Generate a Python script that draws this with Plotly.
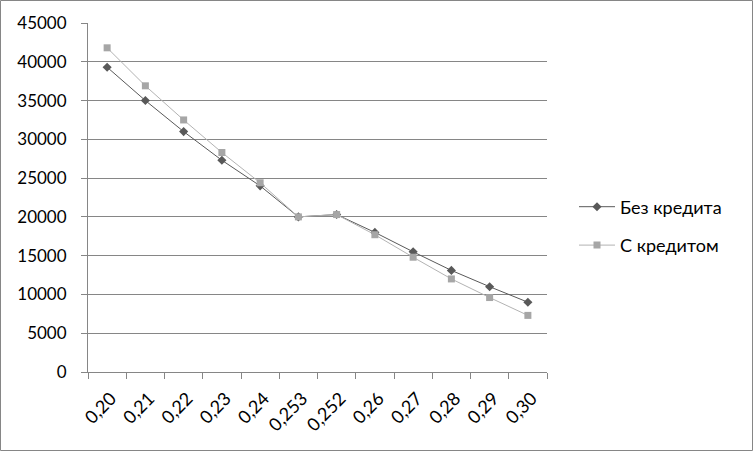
import plotly.graph_objects as go

categories = ["0,20", "0,21", "0,22", "0,23", "0,24", "0,253", "0,252", "0,26", "0,27", "0,28", "0,29", "0,30"]
bez_kredita = [39300, 35000, 31000, 27300, 24000, 20000, 20300, 18000, 15500, 13100, 11000, 9000]
s_kreditom = [41800, 36900, 32500, 28300, 24400, 20000, 20300, 17700, 14800, 12000, 9600, 7300]
y_ticks = list(range(0, 45001, 5000))

W, H = 753, 451
ml, mr, mt, mb = 88, 206, 23, 79
pw, ph = W - ml - mr, H - mt - mb

fig = go.Figure()
fig.add_trace(go.Scatter(
    x=categories, y=bez_kredita, name="Без кредита", mode="lines+markers",
    line=dict(color="#595959", width=1),
    marker=dict(symbol="diamond", size=7, color="#595959"),
    legendgroup="a"))
fig.add_trace(go.Scatter(
    x=categories, y=s_kreditom, name="С кредитом", mode="lines+markers",
    line=dict(color="#b3b3b3", width=1),
    marker=dict(symbol="square", size=7, color="#a6a6a6"),
    legendgroup="b"))

font = "Lato, 'Open Sans', sans-serif"
fig.update_layout(
    width=W, height=H,
    margin=dict(l=ml, r=mr, t=mt, b=mb, pad=0, autoexpand=False),
    paper_bgcolor="white", plot_bgcolor="white",
    font=dict(family=font, size=17, color="black"),
    showlegend=True,
    legend=dict(x=1 + (574 - 547) / pw, y=(372 - 226) / ph, xanchor="left", yanchor="middle",
                tracegroupgap=12, font=dict(size=18), bgcolor="rgba(0,0,0,0)",
                itemwidth=36),
    xaxis=dict(type="category", categoryorder="array", categoryarray=categories,
               showline=True, linecolor="#868686", linewidth=1,
               ticks="outside", tickson="boundaries", ticklen=6, tickcolor="#868686",
               tickangle=-45, showgrid=False, zeroline=False, automargin=False,
               ticklabelstandoff=8, ticklabelshift=4,
               range=[-0.5, len(categories) - 0.5], tickfont=dict(size=18)),
    yaxis=dict(range=[0, 45000], tickvals=y_ticks, ticktext=[str(v) for v in y_ticks],
               showline=True, linecolor="#868686", linewidth=1,
               ticks="outside", ticklen=6, tickcolor="#868686", automargin=False,
               showgrid=True, gridcolor="#868686", gridwidth=1, zeroline=False,
               ticklabelstandoff=11, tickfont=dict(size=17)),
)
fig.add_shape(type="rect", xref="paper", yref="paper",
              x0=-(ml - 0.5) / pw, x1=1 + (mr - 0.5) / pw,
              y0=-(mb - 0.5) / ph, y1=1 + (mt - 0.5) / ph,
              line=dict(color="#868686", width=1), fillcolor="rgba(0,0,0,0)", layer="below")
fig.write_html("out.html", config={"displayModeBar": False},
               post_script="document.body.style.margin='0';document.body.style.overflow='hidden';")
